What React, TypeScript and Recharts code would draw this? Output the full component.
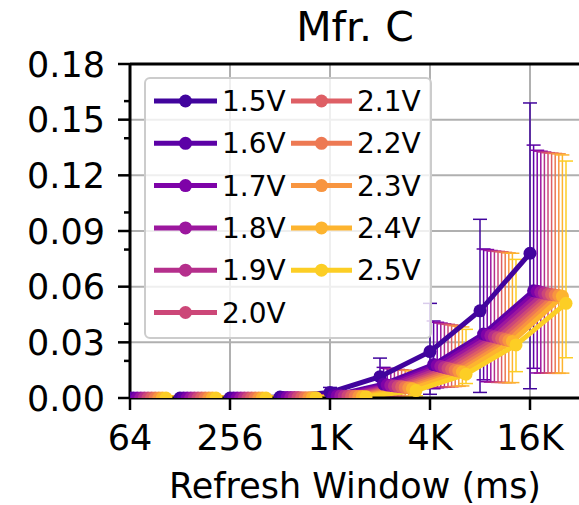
import React from "react";
import {
  LineChart,
  Line,
  XAxis,
  YAxis,
  CartesianGrid,
  ErrorBar,
  ReferenceLine,
  Legend,
} from "recharts";

// refresh windows (ms) and their tick labels
const WINDOWS_MS = [64, 128, 256, 512, 1024, 2048, 4096, 8192, 16384];
const X_TICKS = [64, 256, 1024, 4096, 16384];
const X_TICK_LABELS = ["64", "256", "1K", "4K", "16K"];

const Y_TICKS = [0, 0.03, 0.06, 0.09, 0.12, 0.15, 0.18];
const Y_MINOR_TICKS = [0.02, 0.04, 0.08, 0.1, 0.14, 0.16];

const VOLTAGES = ["1.5V", "1.6V", "1.7V", "1.8V", "1.9V", "2.0V", "2.1V", "2.2V", "2.3V", "2.4V", "2.5V"];
const COLORS = ["#41049d", "#5c01a6", "#7e03a8", "#9c179e", "#b52f8c", "#cc4778", "#de5f65", "#ed7953", "#f89540", "#fdb42f", "#fcce25"];

// mean, lower bound, upper bound per voltage
const v15 = [0, 0, 0, 0.0005, 0.003, 0.0115, 0.025, 0.047, 0.078];
const lo15 = [0, 0, 0, 0, 0.0005, 0.002, 0.002, 0.003, 0.005];
const hi15 = [0, 0, 0, 0.001, 0.0057, 0.0215, 0.051, 0.0963, 0.159];

const v16 = [0, 0, 0, 0.0003, 0.0012, 0.0075, 0.018, 0.0345, 0.0578];
const lo16 = [0, 0, 0, 0, 0.0002, 0.001, 0.005, 0.0098, 0.016];
const hi16 = [0, 0, 0, 0.0006, 0.0025, 0.0165, 0.0415, 0.0803, 0.1363];

const v17 = [0, 0, 0, 0.0003, 0.0011, 0.007, 0.0175, 0.034, 0.0575];
const lo17 = [0, 0, 0, 0, 0.0002, 0.0009, 0.0055, 0.0088, 0.0135];
const hi17 = [0, 0, 0, 0.0006, 0.0024, 0.016, 0.0408, 0.08, 0.1335];

const v18 = [0, 0, 0, 0.0003, 0.0011, 0.0068, 0.017, 0.0335, 0.057];
const lo18 = [0, 0, 0, 0, 0.0002, 0.0009, 0.0057, 0.0086, 0.0134];
const hi18 = [0, 0, 0, 0.0006, 0.0023, 0.0158, 0.0404, 0.0795, 0.133];

const v19 = [0, 0, 0, 0.0003, 0.001, 0.0065, 0.0165, 0.033, 0.0565];
const lo19 = [0, 0, 0, 0, 0.0002, 0.0009, 0.0058, 0.0085, 0.0134];
const hi19 = [0, 0, 0, 0.0005, 0.0022, 0.0156, 0.04, 0.0792, 0.1326];

const v20 = [0, 0, 0, 0.0003, 0.001, 0.0062, 0.016, 0.0325, 0.056];
const lo20 = [0, 0, 0, 0, 0.0002, 0.0009, 0.006, 0.0084, 0.0134];
const hi20 = [0, 0, 0, 0.0005, 0.0021, 0.0154, 0.0397, 0.079, 0.1322];

const v21 = [0, 0, 0, 0.0002, 0.0009, 0.006, 0.0155, 0.032, 0.0558];
const lo21 = [0, 0, 0, 0, 0.0002, 0.0009, 0.006, 0.0084, 0.0134];
const hi21 = [0, 0, 0, 0.0005, 0.002, 0.0152, 0.0394, 0.0788, 0.132];

const v22 = [0, 0, 0, 0.0002, 0.0009, 0.0057, 0.015, 0.0315, 0.0555];
const lo22 = [0, 0, 0, 0, 0.0002, 0.0009, 0.0062, 0.0083, 0.0133];
const hi22 = [0, 0, 0, 0.0005, 0.0019, 0.015, 0.039, 0.0785, 0.1318];

const v23 = [0, 0, 0, 0.0002, 0.0008, 0.0054, 0.0145, 0.031, 0.0553];
const lo23 = [0, 0, 0, 0, 0.0002, 0.0009, 0.0063, 0.0082, 0.0133];
const hi23 = [0, 0, 0, 0.0004, 0.0018, 0.0148, 0.0387, 0.0782, 0.1316];

const v24 = [0, 0, 0, 0.0002, 0.0008, 0.005, 0.014, 0.0305, 0.0548];
const lo24 = [0, 0, 0, 0, 0.0002, 0.001, 0.0065, 0.0083, 0.0134];
const hi24 = [0, 0, 0, 0.0004, 0.0017, 0.0146, 0.0383, 0.078, 0.131];

const v25 = [0, 0, 0, 0.0002, 0.0007, 0.004, 0.0128, 0.0286, 0.051];
const lo25 = [0, 0, 0, 0, 0.0002, 0.0012, 0.0078, 0.0142, 0.0217];
const hi25 = [0, 0, 0, 0.0004, 0.0015, 0.014, 0.037, 0.0747, 0.1277];

const MEANS = [v15, v16, v17, v18, v19, v20, v21, v22, v23, v24, v25];
const LOWS = [lo15, lo16, lo17, lo18, lo19, lo20, lo21, lo22, lo23, lo24, lo25];
const HIGHS = [hi15, hi16, hi17, hi18, hi19, hi20, hi21, hi22, hi23, hi24, hi25];

// horizontal dodge between voltages, in octaves
const DODGE = 0.072;

const series = VOLTAGES.map((name, i) => ({
  name,
  color: COLORS[i],
  data: WINDOWS_MS.map((w, j) => ({
    x: Math.log2(w) + i * DODGE,
    y: MEANS[i][j],
    err: [MEANS[i][j] - LOWS[i][j], HIGHS[i][j] - MEANS[i][j]],
  })),
}));

const xTickValues = X_TICKS.map((t) => Math.log2(t));
const xLabel = (v: number) => X_TICK_LABELS[xTickValues.indexOf(v)] ?? "";
const allYTicks = [...Y_TICKS, ...Y_MINOR_TICKS].sort((a, b) => a - b);
const isMajor = (v: number) => Y_TICKS.some((t) => Math.abs(t - v) < 1e-9);

const YTick = (props: any) => {
  const { x, y, payload } = props;
  const major = isMajor(payload.value);
  return (
    <g>
      <line x1={x - (major ? 12 : 6)} x2={x} y1={y} y2={y} stroke="#000" strokeWidth={2.5} />
      {major && (
        <text x={x - 25} y={y} dy="0.36em" textAnchor="end" fontSize={35} fill="#000">
          {payload.value.toFixed(2)}
        </text>
      )}
    </g>
  );
};

const LegendBox = () => (
  <svg width={288} height={262}>
    <rect x={1} y={1} width={286} height={260} rx={5} fill="#fff" fillOpacity={0.8} stroke="#cccccc" strokeWidth={2} />
    {series.map((s, i) => {
      const col = i < 6 ? 0 : 1;
      const row = i < 6 ? i : i - 6;
      const cy = 24 + row * 42.3;
      const x1 = col ? 147 : 10;
      const x2 = col ? 208 : 73;
      return (
        <g key={s.name}>
          <line x1={x1} x2={x2} y1={cy} y2={cy} stroke={s.color} strokeWidth={5} />
          <circle cx={(x1 + x2) / 2} cy={cy} r={6.5} fill={s.color} />
          <text x={x2 + 5} y={cy} dy="0.36em" fontSize={28} fill="#000">
            {s.name}
          </text>
        </g>
      );
    })}
  </svg>
);

export default function App() {
  return (
    <div
      style={{
        position: "fixed",
        left: 0,
        top: 0,
        width: 579,
        height: 505,
        overflow: "hidden",
        background: "#fff",
        fontFamily: '"DejaVu Sans", sans-serif',
      }}
    >
      <div
        style={{
          position: "absolute",
          left: 130,
          width: 450,
          top: 7,
          textAlign: "center",
          fontSize: 41,
          lineHeight: "41px",
          zIndex: 2,
        }}
      >
        Mfr. C
      </div>
      <LineChart width={590} height={505} margin={{ top: 64, right: 10, bottom: 0, left: 0 }}>
        <CartesianGrid
          stroke="#b0b0b0"
          strokeWidth={2}
          horizontalValues={Y_TICKS}
          verticalValues={xTickValues}
        />
        {/* error bars first so every line sits above them */}
        {series.map((s) => (
          <Line
            key={"err-" + s.name}
            data={s.data}
            dataKey="y"
            stroke="none"
            dot={false}
            activeDot={false}
            legendType="none"
            isAnimationActive={false}
          >
            <ErrorBar dataKey="err" direction="y" width={7} stroke={s.color} strokeWidth={1.5} />
          </Line>
        ))}
        {series.map((s) => (
          <Line
            key={s.name}
            data={s.data}
            dataKey="y"
            name={s.name}
            stroke={s.color}
            strokeWidth={5}
            dot={{ r: 6.5, fill: s.color, stroke: s.color, strokeWidth: 0 }}
            activeDot={false}
            isAnimationActive={false}
          />
        ))}
        <ReferenceLine y={0.18} stroke="#000" strokeWidth={3} />
        <XAxis
          type="number"
          dataKey="x"
          domain={[6, 15]}
          allowDataOverflow
          ticks={xTickValues}
          interval={0}
          tickFormatter={xLabel}
          tickSize={12}
          tickMargin={15}
          height={107}
          axisLine={{ stroke: "#000", strokeWidth: 3 }}
          tickLine={{ stroke: "#000", strokeWidth: 2.5 }}
          tick={{ fontSize: 35, fill: "#000" }}
          label={{ value: "Refresh Window (ms)", position: "insideBottom", offset: 7, fontSize: 35, fill: "#000" }}
        />
        <YAxis
          type="number"
          domain={[0, 0.18]}
          allowDataOverflow
          ticks={allYTicks}
          interval={0}
          width={130}
          tickSize={0}
          tickMargin={0}
          tickLine={false}
          axisLine={{ stroke: "#000", strokeWidth: 3 }}
          tick={<YTick />}
        />
        <Legend
          layout="vertical"
          align="center"
          verticalAlign="middle"
          wrapperStyle={{ left: 144, top: 77, width: 288, height: 262 }}
          content={() => <LegendBox />}
        />
      </LineChart>
    </div>
  );
}
